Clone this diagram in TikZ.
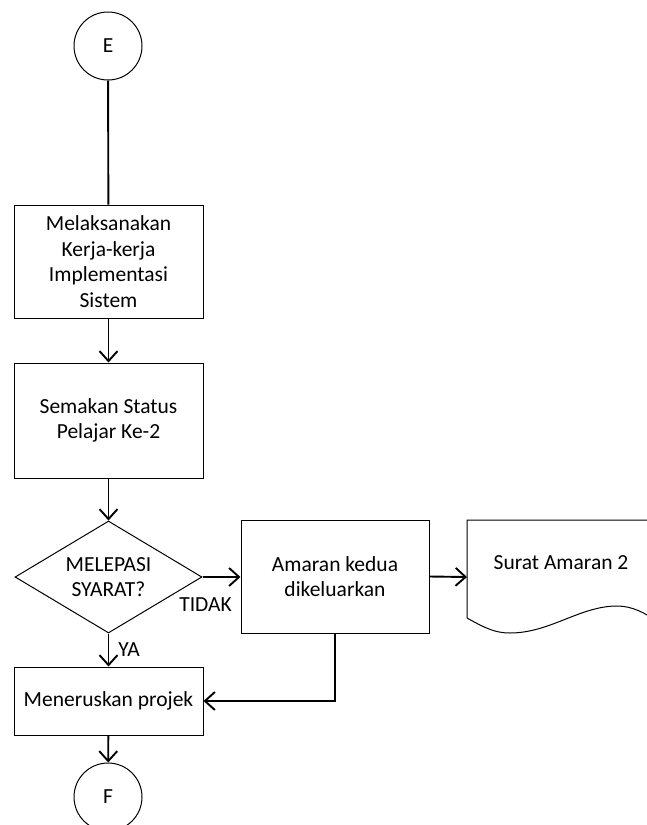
\documentclass[tikz,border=0pt]{standalone}
\usepackage{fontspec}
\setmainfont{Carlito}
\usetikzlibrary{arrows.meta,shapes.geometric}

\begin{document}
\begin{tikzpicture}[x=1pt,y=-1pt,
                    font=\fontsize{21.5}{25.5}\selectfont,
                    process/.style={draw,line width=1pt,minimum width=189pt,align=center,inner sep=0pt},
                    connector/.style={draw,line width=1pt,circle,minimum size=68pt,inner sep=0pt},
                    decision/.style={draw,line width=1pt,diamond,aspect=1.67,minimum width=187pt,minimum height=112pt,inner sep=0pt,align=center},
                    flow/.style={line width=1.9pt,-{Straight Barb[length=10pt,width=18pt]}},
                    flow label/.style={inner sep=1pt}]
    \useasboundingbox (0,0) rectangle (647,825);
    \clip (0,0) rectangle (647,825);

    \node[connector] (E) at (108,46) {E};
    \node[process,minimum height=113pt] (laksana) at (108.5,261.5) {Melaksanakan\\Kerja-kerja\\Implementasi\\Sistem};
    \node[process,minimum height=115pt] (semak) at (108.5,420.5) {Semakan Status\\Pelajar Ke-2};
    \node[decision] (syarat) at (108.5,577) {MELEPASI\\SYARAT?};
    \node[process,minimum width=188pt,minimum height=113pt] (amaran) at (335,576.5) {Amaran kedua\\dikeluarkan};
    \node[process,minimum height=68pt] (teruskan) at (108.5,701) {Meneruskan projek};
    \node[connector] (F) at (108,797) {F};

    \draw[line width=1pt] (467,618) -- (467,520) -- (655,520) -- (655,620)
        .. controls (645,613) and (632,606) .. (617,606)
        .. controls (580,606) and (550,633) .. (510,633)
        .. controls (495,633) and (485,628) .. (467,618);
    \node (surat) at (561,563) {Surat Amaran 2};
    \coordinate (surat left) at (467,577);

    \draw[line width=1.9pt] (E) -- (laksana);
    \draw[flow] (laksana) -- (semak);
    \draw[flow] (semak) -- (syarat);
    \draw[flow] (syarat.east) -- (syarat.east -| amaran.west) node[flow label,pos=0.08,yshift=-28pt] {TIDAK};
    \draw[flow] (syarat) -- (teruskan) node[flow label,midway,right=8pt] {YA};
    \draw[flow] (amaran.east) -- (surat left);
    \draw[flow] (amaran.south) |- (teruskan.east);
    \draw[flow] (teruskan) -- (F);
\end{tikzpicture}
\end{document}
